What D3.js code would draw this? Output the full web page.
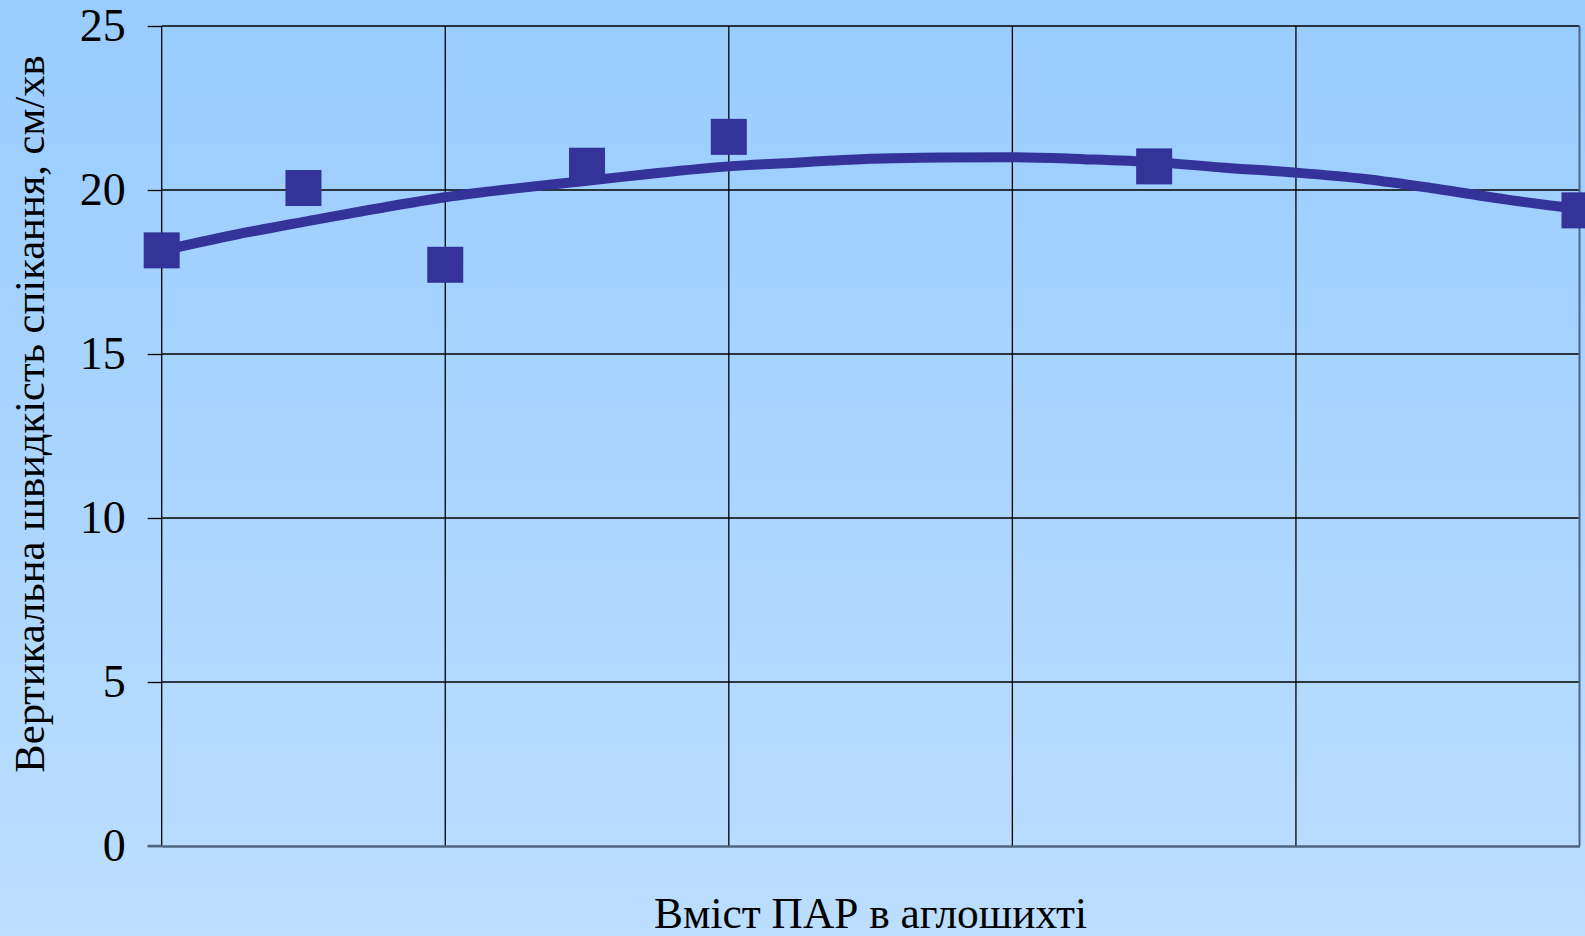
<!DOCTYPE html>
<html>
<head>
<meta charset="utf-8">
<script src="https://cdn.jsdelivr.net/npm/d3@7"></script>
<style>
html,body{margin:0;padding:0;overflow:hidden;}
svg{display:block;}
</style>
</head>
<body>
<svg id="chart" width="1585" height="936"></svg>
<script>
// ---- data ----
const xValues = [0, 0.05, 0.1, 0.15, 0.2, 0.35, 0.5];
const yValues = [18.16, 20.06, 17.72, 20.74, 21.62, 20.72, 19.38];
// trend line
const trendX = [0, 0.025, 0.05, 0.075, 0.1, 0.125, 0.15, 0.175, 0.2, 0.225, 0.25, 0.275, 0.3, 0.325, 0.35, 0.375, 0.4, 0.425, 0.45, 0.475, 0.5];
const trendY = [18.15, 18.62, 19.03, 19.42, 19.78, 20.05, 20.28, 20.52, 20.72, 20.84, 20.95, 20.99, 21.0, 20.94, 20.85, 20.68, 20.53, 20.33, 20.03, 19.70, 19.42];
const yTicks = [0, 5, 10, 15, 20, 25];
const xGrid = [0, 0.1, 0.2, 0.3, 0.4, 0.5];
const yTitle = "Вертикальна швидкість спікання, см/хв";
const xTitle = "Вміст ПАР в аглошихті";

const W = 1585, H = 936;
const m = {left: 161.7, right: 1579.5, top: 26, bottom: 846};
const svg = d3.select("#chart");

const defs = svg.append("defs");
const grad = defs.append("linearGradient").attr("id", "bg").attr("x1", 0).attr("y1", 0).attr("x2", 0).attr("y2", 1);
grad.append("stop").attr("offset", "0%").attr("stop-color", "#99ccff");
grad.append("stop").attr("offset", "100%").attr("stop-color", "#bcdeff");
svg.append("rect").attr("width", W).attr("height", H).attr("fill", "url(#bg)");

const x = d3.scaleLinear().domain([0, 0.5]).range([m.left, m.right]);
const y = d3.scaleLinear().domain([0, 25]).range([m.bottom, m.top]);

const font = "'Liberation Serif','Times New Roman',serif";

// gridlines
svg.append("g").selectAll("line.h").data(yTicks.filter(d => d > 0)).join("line")
  .attr("x1", m.left).attr("x2", m.right).attr("y1", d => y(d)).attr("y2", d => y(d))
  .attr("stroke", "#000").attr("stroke-width", 1.3);
svg.append("g").selectAll("line.v").data(xGrid.filter(d => d < 0.5)).join("line")
  .attr("x1", d => x(d)).attr("x2", d => x(d)).attr("y1", m.top).attr("y2", m.bottom)
  .attr("stroke", "#000").attr("stroke-width", 1.3);
// right border
svg.append("line").attr("x1", m.right).attr("x2", m.right).attr("y1", m.top).attr("y2", m.bottom)
  .attr("stroke", "#4f6580").attr("stroke-width", 2);

// y axis
const yAxis = d3.axisLeft(y).tickValues(yTicks).tickSize(14).tickPadding(22).tickFormat(d3.format("d"));
const gy = svg.append("g").attr("transform", `translate(${m.left},0)`).call(yAxis);
gy.select(".domain").remove();
gy.selectAll(".tick line").attr("stroke", "#000").attr("stroke-width", 1.3);
gy.selectAll(".tick text").attr("font-family", font).attr("font-size", 46).attr("fill", "#000");

// x axis line
const xAxis = d3.axisBottom(x).tickValues([]).tickSize(0);
const gx = svg.append("g").attr("transform", `translate(0,${m.bottom})`).call(xAxis);
gx.select(".domain").attr("stroke", "#4f6580").attr("stroke-width", 2.5);
svg.append("line").attr("x1", m.left - 14).attr("x2", m.left).attr("y1", m.bottom).attr("y2", m.bottom)
  .attr("stroke", "#4f6580").attr("stroke-width", 2.5);

// trend line
const line = d3.line().x((d, i) => x(trendX[i])).y(d => y(d)).curve(d3.curveMonotoneX);
svg.append("path").datum(trendY).attr("d", line)
  .attr("fill", "none").attr("stroke", "#333399").attr("stroke-width", 10).attr("stroke-linejoin", "round");

// markers
const ms = 36;
svg.append("g").selectAll("rect").data(yValues).join("rect")
  .attr("x", (d, i) => x(xValues[i]) - ms / 2).attr("y", d => y(d) - ms / 2)
  .attr("width", ms).attr("height", ms).attr("fill", "#333399");

// titles
svg.append("text").attr("transform", "translate(43.5,414) rotate(-90)")
  .attr("text-anchor", "middle").attr("font-family", font).attr("font-size", 42.6)
  .attr("fill", "#000").text(yTitle);
svg.append("text").attr("x", (m.left + m.right) / 2).attr("y", 927.5)
  .attr("text-anchor", "middle").attr("font-family", font).attr("font-size", 43.4)
  .attr("fill", "#000").text(xTitle);
</script>
</body>
</html>
